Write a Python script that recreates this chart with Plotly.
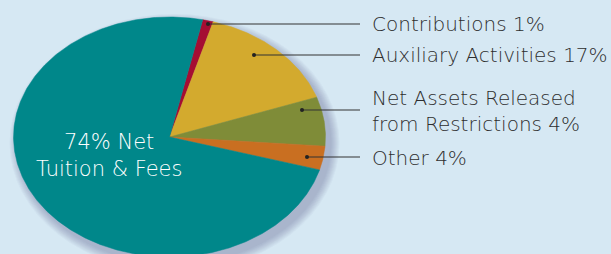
import numpy as np
import plotly.graph_objects as go

# ---- data ----
categories = ["Contributions", "Auxiliary Activities", "Net Assets Released from Restrictions", "Other", "Net Tuition & Fees"]
label_pcts = [1, 17, 4, 4, 74]          # percentages printed on the chart
slice_shares = [1.1, 15.1, 6.6, 3.2, 74.0]  # shares as drawn in the picture
colors = ["#a50d33", "#d3aa2e", "#7f8c38", "#c96f21", "#00878a"]

# ---- layout constants (pixel space) ----
W, H = 611, 254
CX, CY, RX, RY = 169.5, 137, 156, 120
START_DEG = 12.3   # clockwise from top, where the first slice starts
BG = "#d6e8f3"
FONT = "DejaVu Sans"

fig = go.Figure()

# soft drop shadow
shapes = []
for i in range(9):
    grow = 9 - i
    shapes.append(dict(type="circle", xref="x", yref="y", layer="below",
                       x0=CX - RX - grow + 5, x1=CX + RX + grow + 5,
                       y0=CY - RY - grow + 6, y1=CY + RY + grow + 6,
                       fillcolor="rgba(70,80,130,0.04)", line=dict(width=0)))

total = sum(slice_shares)
ang = START_DEG
for name, share, col in zip(categories, slice_shares, colors):
    span = share / total * 360.0
    t = np.radians(np.linspace(ang, ang + span, max(int(span * 2), 4)))
    xs = np.concatenate([[CX], CX + RX * np.sin(t), [CX]])
    ys = np.concatenate([[CY], CY - RY * np.cos(t), [CY]])
    fig.add_trace(go.Scatter(x=xs, y=ys, mode="lines", fill="toself",
                             fillcolor=col, line=dict(width=0.5, color=col),
                             hoverinfo="text", text=name, showlegend=False))
    ang += span

# leader lines: (dot x, line y) per outside label
leaders = [(208, 24), (254, 55), (302, 110), (307, 157)]
LINE_END = 360
for (dx, ly) in leaders:
    fig.add_trace(go.Scatter(x=[dx, LINE_END], y=[ly, ly], mode="lines",
                             line=dict(color="#333333", width=1.2),
                             hoverinfo="skip", showlegend=False))
    fig.add_trace(go.Scatter(x=[dx], y=[ly], mode="markers",
                             marker=dict(color="#222222", size=4),
                             hoverinfo="skip", showlegend=False))

font_out = dict(family=FONT, size=20, color="#2e2e2e", weight=300)
ann = []
texts = [f"{categories[0]} {label_pcts[0]}%",
         f"{categories[1]} {label_pcts[1]}%",
         f"Net Assets Released<br>from Restrictions {label_pcts[2]}%",
         f"{categories[3]} {label_pcts[3]}%"]
text_y = [24, 55, 111, 158]
for txt, ty in zip(texts, text_y):
    ann.append(dict(x=370, y=ty, xref="x", yref="y", text=txt, showarrow=False,
                    xanchor="left", yanchor="middle", align="left", font=font_out))
ann.append(dict(x=109, y=155, xref="x", yref="y",
                text=f"{label_pcts[4]}% Net<br>Tuition &amp; Fees", showarrow=False,
                xanchor="center", yanchor="middle", align="center",
                font=dict(family=FONT, size=21, color="#ffffff", weight=300)))

fig.update_layout(
    width=W, height=H, margin=dict(l=0, r=0, t=0, b=0),
    paper_bgcolor=BG, plot_bgcolor=BG,
    xaxis=dict(range=[0, W], visible=False, fixedrange=True),
    yaxis=dict(range=[H, 0], visible=False, fixedrange=True),
    shapes=shapes, annotations=ann,
)
fig.write_html("out.html", config={"displayModeBar": False},
               post_script="document.body.style.margin='0';document.body.style.overflow='hidden';")
